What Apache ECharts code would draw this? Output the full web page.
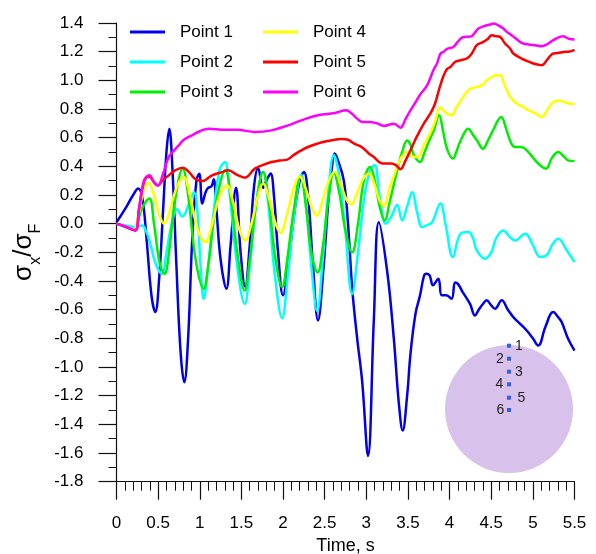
<!DOCTYPE html>
<html>
<head>
<meta charset="utf-8">
<script src="https://cdn.jsdelivr.net/npm/echarts@6/dist/echarts.min.js"></script>
<style>
  html, body { margin: 0; padding: 0; background: #fff; }
  #chart { width: 596px; height: 554px; }
</style>
</head>
<body>
<div id="chart"></div>
<script>
// Normalised stress sigma_x / sigma_F at six depth points versus time (s)
const seriesNames = ['Point 1', 'Point 2', 'Point 3', 'Point 4', 'Point 5', 'Point 6'];
const seriesColors = ['#0000ee', '#00ffff', '#00ee00', '#ffff00', '#ff0000', '#ff00ff'];

const xTicks = { min: 0, max: 5.5, step: 0.5 };
const yTicks = { min: -1.8, max: 1.4, step: 0.2 };

const point1 = [
  [0, 0.01], [0.1, 0.1], [0.2, 0.2], [0.26, 0.245], [0.31, 0.18], [0.36, -0.1], [0.42, -0.5],
  [0.466, -0.617], [0.51, -0.4], [0.56, 0.1], [0.6, 0.5], [0.634, 0.663], [0.67, 0.4],
  [0.72, -0.3], [0.77, -0.9], [0.814, -1.106], [0.86, -0.8], [0.91, -0.1], [0.96, 0.3],
  [0.994, 0.349], [1.03, 0.14], [1.07, 0.22], [1.1, 0.25], [1.14, 0.26], [1.167, 0.31],
  [1.2, 0.1], [1.25, -0.25], [1.319, -0.454], [1.37, -0.15], [1.435, 0.25], [1.49, -0.2],
  [1.545, -0.44], [1.6, -0.15], [1.65, 0.25], [1.70, 0.39], [1.76, 0.25], [1.80, 0.3],
  [1.85, 0.35], [1.89, 0.2], [1.94, -0.2], [2.0, -0.5], [2.06, -0.3], [2.13, 0.05],
  [2.2, 0.3], [2.25, 0.36], [2.3, 0.2], [2.36, -0.3], [2.42, -0.675], [2.48, -0.35],
  [2.55, 0.2], [2.6, 0.45], [2.62, 0.49], [2.66, 0.44], [2.73, 0.3], [2.78, 0.0],
  [2.83, -0.45], [2.89, -0.8], [2.95, -1.1], [3.02, -1.62], [3.09, -0.675], [3.15, 0.01],
  [3.25, -0.33], [3.33, -0.8], [3.39, -1.25], [3.437, -1.443], [3.49, -1.2], [3.53, -0.91],
  [3.59, -0.63], [3.645, -0.5], [3.69, -0.37], [3.717, -0.35], [3.76, -0.36], [3.80, -0.43],
  [3.865, -0.384], [3.905, -0.5], [3.96, -0.5], [4.025, -0.524], [4.065, -0.41], [4.1, -0.42],
  [4.15, -0.47], [4.245, -0.56], [4.305, -0.64], [4.35, -0.6], [4.4, -0.56], [4.445, -0.535],
  [4.5, -0.57], [4.545, -0.593], [4.626, -0.535], [4.7, -0.6], [4.765, -0.652], [4.85, -0.7],
  [4.926, -0.745], [5.0, -0.8], [5.065, -0.85], [5.15, -0.72], [5.245, -0.617], [5.3, -0.65],
  [5.347, -0.687], [5.42, -0.8], [5.5, -0.885]
];

const point2 = [
  [0, 0], [0.1, -0.01], [0.226, -0.024], [0.306, -0.012], [0.36, -0.06], [0.406, -0.14],
  [0.47, -0.28], [0.546, -0.35], [0.6, -0.2], [0.666, 0.01], [0.727, 0.1], [0.787, 0.05],
  [0.886, 0.163], [0.93, 0.22], [0.97, 0.1], [1.01, -0.3], [1.047, -0.524], [1.1, -0.3],
  [1.17, 0.1], [1.24, 0.38], [1.30, 0.43], [1.36, 0.2], [1.45, -0.3], [1.54, -0.56],
  [1.6, -0.3], [1.68, 0.15], [1.76, 0.36], [1.82, 0.15], [1.9, -0.35], [1.99, -0.66],
  [2.05, -0.4], [2.13, 0.05], [2.22, 0.34], [2.28, 0.1], [2.34, -0.3], [2.41, -0.61],
  [2.47, -0.3], [2.54, 0.2], [2.61, 0.477], [2.67, 0.35], [2.74, 0.0], [2.83, -0.49],
  [2.9, -0.2], [2.98, 0.2], [3.05, 0.38], [3.10, 0.407], [3.16, 0.19], [3.233, 0.0],
  [3.3, 0.05], [3.37, 0.13], [3.43, 0.023], [3.49, 0.12], [3.55, 0.22], [3.61, 0.08],
  [3.67, -0.024], [3.73, -0.01], [3.79, 0.01], [3.89, 0.14], [3.95, 0.0], [4.04, -0.233],
  [4.13, -0.07], [4.225, -0.058], [4.28, -0.1], [4.326, -0.186], [4.425, -0.244], [4.5, -0.2],
  [4.56, -0.1], [4.645, -0.047], [4.72, -0.09], [4.786, -0.117], [4.906, -0.07], [5.0, -0.15],
  [5.086, -0.233], [5.166, -0.22], [5.24, -0.14], [5.306, -0.105], [5.4, -0.18], [5.5, -0.268]
];

const point3 = [
  [0, 0], [0.1, -0.02], [0.2, -0.04], [0.25, 0.0], [0.3, 0.1], [0.394, 0.175], [0.45, 0.0],
  [0.52, -0.28], [0.578, -0.35], [0.63, -0.2], [0.7, 0.15], [0.795, 0.384], [0.86, 0.2],
  [0.95, -0.25], [1.047, -0.454], [1.1, -0.3], [1.2, 0.15], [1.307, 0.372], [1.37, 0.2],
  [1.45, -0.2], [1.54, -0.466], [1.6, -0.25], [1.68, 0.15], [1.76, 0.36], [1.83, 0.15],
  [1.91, -0.25], [1.99, -0.442], [2.05, -0.25], [2.13, 0.1], [2.21, 0.33], [2.28, 0.1],
  [2.34, -0.2], [2.415, -0.34], [2.48, -0.15], [2.54, 0.15], [2.61, 0.355], [2.68, 0.2],
  [2.75, -0.05], [2.83, -0.2], [2.9, 0.0], [2.97, 0.3], [3.045, 0.395], [3.1, 0.3],
  [3.16, 0.12], [3.22, 0.023], [3.28, 0.15], [3.37, 0.37], [3.43, 0.5], [3.49, 0.58],
  [3.53, 0.55], [3.57, 0.48], [3.645, 0.43], [3.7, 0.5], [3.77, 0.6], [3.81, 0.65],
  [3.875, 0.756], [3.92, 0.65], [3.97, 0.52], [4.04, 0.454], [4.08, 0.5], [4.125, 0.57],
  [4.225, 0.663], [4.28, 0.62], [4.33, 0.58], [4.4, 0.523], [4.46, 0.58], [4.52, 0.65],
  [4.62, 0.744], [4.68, 0.66], [4.74, 0.56], [4.786, 0.535], [4.85, 0.535], [4.906, 0.523],
  [4.96, 0.49], [5.03, 0.44], [5.1, 0.4], [5.158, 0.384], [5.23, 0.46], [5.306, 0.5],
  [5.37, 0.47], [5.43, 0.44], [5.5, 0.437]
];

const point4 = [
  [0, 0], [0.1, -0.02], [0.2, -0.04], [0.26, 0.05], [0.32, 0.22], [0.38, 0.285], [0.45, 0.2],
  [0.52, 0.05], [0.574, 0.0], [0.63, 0.07], [0.72, 0.25], [0.807, 0.326], [0.88, 0.2],
  [0.98, -0.05], [1.067, -0.128], [1.14, -0.02], [1.24, 0.2], [1.327, 0.267], [1.4, 0.15],
  [1.48, -0.05], [1.547, -0.117], [1.62, 0.0], [1.7, 0.2], [1.76, 0.28], [1.83, 0.18],
  [1.9, 0.02], [1.97, -0.065], [2.04, 0.05], [2.13, 0.25], [2.2, 0.33], [2.27, 0.25],
  [2.34, 0.12], [2.405, 0.055], [2.47, 0.15], [2.55, 0.3], [2.62, 0.36], [2.69, 0.28],
  [2.76, 0.17], [2.82, 0.135], [2.88, 0.2], [2.96, 0.31], [3.03, 0.35], [3.1, 0.27],
  [3.16, 0.16], [3.21, 0.125], [3.28, 0.25], [3.37, 0.395], [3.43, 0.47], [3.49, 0.5],
  [3.55, 0.47], [3.62, 0.465], [3.69, 0.55], [3.765, 0.628], [3.83, 0.72], [3.88, 0.81],
  [3.905, 0.803], [3.96, 0.77], [4.025, 0.756], [4.08, 0.81], [4.125, 0.85], [4.18, 0.9],
  [4.245, 0.94], [4.3, 0.95], [4.386, 0.965], [4.445, 1.0], [4.506, 1.023], [4.56, 1.035],
  [4.606, 1.035], [4.65, 0.98], [4.705, 0.907], [4.746, 0.872], [4.8, 0.84], [4.885, 0.814],
  [4.95, 0.79], [5.03, 0.77], [5.106, 0.744], [5.17, 0.79], [5.226, 0.838], [5.3, 0.86],
  [5.35, 0.855], [5.42, 0.84], [5.5, 0.835]
];

const point5 = [
  [0, 0], [0.1, -0.02], [0.222, -0.047], [0.27, 0.1], [0.33, 0.29], [0.39, 0.33], [0.45, 0.29],
  [0.498, 0.267], [0.55, 0.3], [0.627, 0.337], [0.7, 0.37], [0.795, 0.391], [0.87, 0.36],
  [0.95, 0.31], [1.027, 0.297], [1.147, 0.337], [1.267, 0.36], [1.34, 0.372], [1.45, 0.34],
  [1.54, 0.321], [1.66, 0.384], [1.76, 0.41], [1.86, 0.43], [1.95, 0.44], [2.04, 0.445],
  [2.13, 0.48], [2.22, 0.512], [2.32, 0.54], [2.42, 0.56], [2.52, 0.575], [2.62, 0.586],
  [2.7, 0.59], [2.78, 0.585], [2.85, 0.56], [2.93, 0.54], [2.97, 0.523], [3.03, 0.49],
  [3.09, 0.465], [3.19, 0.42], [3.29, 0.419], [3.35, 0.41], [3.41, 0.38], [3.47, 0.44],
  [3.53, 0.512], [3.6, 0.6], [3.69, 0.698], [3.76, 0.76], [3.82, 0.83], [3.88, 0.95],
  [3.93, 1.035], [3.97, 1.08], [4.01, 1.093], [4.065, 1.128], [4.13, 1.14], [4.205, 1.152],
  [4.266, 1.187], [4.326, 1.245], [4.405, 1.268], [4.46, 1.29], [4.506, 1.315], [4.54, 1.31],
  [4.606, 1.303], [4.665, 1.257], [4.726, 1.222], [4.765, 1.187], [4.866, 1.152], [4.95, 1.13],
  [5.006, 1.117], [5.06, 1.11], [5.106, 1.105], [5.18, 1.15], [5.245, 1.187], [5.3, 1.19],
  [5.366, 1.198], [5.43, 1.2], [5.5, 1.213]
];

const point6 = [
  [0, 0], [0.1, -0.02], [0.222, -0.047], [0.27, 0.1], [0.33, 0.3], [0.394, 0.337], [0.45, 0.29],
  [0.498, 0.267], [0.56, 0.35], [0.627, 0.465], [0.69, 0.51], [0.747, 0.547], [0.82, 0.59],
  [0.907, 0.616], [1.0, 0.645], [1.107, 0.663], [1.267, 0.656], [1.45, 0.655], [1.66, 0.64],
  [1.86, 0.651], [2.06, 0.686], [2.22, 0.721], [2.42, 0.756], [2.62, 0.772], [2.76, 0.791],
  [2.82, 0.77], [2.89, 0.733], [2.95, 0.71], [3.044, 0.709], [3.13, 0.7], [3.21, 0.682],
  [3.33, 0.698], [3.41, 0.67], [3.47, 0.73], [3.53, 0.791], [3.605, 0.86], [3.645, 0.9],
  [3.73, 0.965], [3.805, 1.07], [3.85, 1.12], [3.89, 1.187], [3.925, 1.198], [3.97, 1.22],
  [4.045, 1.233], [4.1, 1.27], [4.165, 1.303], [4.25, 1.305], [4.3, 1.33], [4.345, 1.361],
  [4.42, 1.38], [4.49, 1.39], [4.525, 1.396], [4.58, 1.385], [4.645, 1.361], [4.686, 1.338],
  [4.745, 1.315], [4.846, 1.268], [4.885, 1.257], [4.95, 1.25], [5.026, 1.245], [5.106, 1.238],
  [5.18, 1.255], [5.245, 1.28], [5.358, 1.307], [5.43, 1.29], [5.5, 1.285]
];

const seriesData = [point1, point2, point3, point4, point5, point6];

// Inset sketch: measuring points down the centre line of a disc
const insetLabels = ['1', '2', '3', '4', '5', '6'];

const FONT = "'Liberation Sans', Arial, sans-serif";

const chart = echarts.init(document.getElementById('chart'), null, { renderer: 'canvas' });

function legendBlock(names, left) {
  return {
    data: names,
    orient: 'vertical',
    left: left,
    top: 22,
    padding: 0,
    itemGap: 10,
    itemWidth: 35,
    itemHeight: 3,
    icon: 'rect',
    textStyle: { fontFamily: FONT, fontSize: 17, color: '#000', lineHeight: 20, padding: [0, 0, 0, 10] },
    selectedMode: false
  };
}

// inset geometry
const disc = { cx: 509, cy: 409, r: 64 };
const dotY = [345.7, 358.7, 371.7, 384.3, 397.7, 410];
const labelX = [519, 500, 519, 499.5, 521.5, 500.5];

const graphics = [
  { type: 'circle', shape: { cx: disc.cx, cy: disc.cy, r: disc.r }, style: { fill: '#d8c1ea' }, z: 1 }
];
insetLabels.forEach((lab, i) => {
  graphics.push({
    type: 'rect', shape: { x: disc.cx - 2, y: dotY[i] - 2, width: 4, height: 4 },
    style: { fill: '#2a63e6' }, z: 2
  });
  graphics.push({
    type: 'text', x: labelX[i], y: dotY[i],
    style: { text: lab, fill: '#222', font: '14px ' + FONT, textAlign: 'center', textVerticalAlign: 'middle' },
    z: 2
  });
});

const option = {
  animation: false,
  backgroundColor: '#fff',
  grid: {
    left: 116.5, right: 21.5, top: 23, bottom: 72.3,
    containLabel: false, outerBoundsMode: 'none'
  },
  legend: [
    legendBlock(seriesNames.slice(0, 3), 130),
    legendBlock(seriesNames.slice(3, 6), 263)
  ],
  xAxis: {
    type: 'value',
    min: xTicks.min, max: xTicks.max, interval: xTicks.step,
    name: 'Time, s',
    nameLocation: 'middle',
    nameGap: 54,
    nameTextStyle: { fontFamily: FONT, fontSize: 18, color: '#000' },
    axisLine: { show: true, onZero: false, lineStyle: { color: '#111', width: 1.2 } },
    axisTick: { show: true, inside: false, length: 18, lineStyle: { color: '#111', width: 1.2 } },
    minorTick: { show: true, splitNumber: 5, length: 9, lineStyle: { color: '#111', width: 1 } },
    axisLabel: { fontFamily: FONT, fontSize: 17, color: '#000', margin: 33 },
    splitLine: { show: false },
    minorSplitLine: { show: false }
  },
  yAxis: {
    type: 'value',
    min: yTicks.min, max: yTicks.max, interval: yTicks.step,
    name: '{s|σ}{sub|x}{s|/σ}{sub|F}',
    nameLocation: 'middle',
    nameGap: 70,
    nameTextStyle: {
      fontFamily: FONT, color: '#000',
      rich: {
        s: { fontFamily: FONT, fontSize: 26, lineHeight: 32, verticalAlign: 'top', color: '#000' },
        sub: { fontFamily: FONT, fontSize: 16, lineHeight: 16, verticalAlign: 'bottom', color: '#000' }
      }
    },
    axisLine: { show: true, onZero: false, lineStyle: { color: '#111', width: 1.2 } },
    axisTick: { show: true, inside: false, length: 18, lineStyle: { color: '#111', width: 1.2 } },
    minorTick: { show: true, splitNumber: 2, length: 8, lineStyle: { color: '#111', width: 1 } },
    axisLabel: {
      fontFamily: FONT, fontSize: 17, color: '#000', margin: 33,
      formatter: v => (Math.abs(v) < 1e-9 ? '0.0' : v.toFixed(1))
    },
    splitLine: { show: false },
    minorSplitLine: { show: false }
  },
  graphic: graphics,
  series: seriesData.map((d, i) => ({
    name: seriesNames[i],
    type: 'line',
    data: d,
    smooth: 0.4,
    showSymbol: false,
    symbol: 'none',
    color: seriesColors[i],
    lineStyle: { color: seriesColors[i], width: 2.5 },
    z: 3 + i
  }))
};

chart.setOption(option);
</script>
</body>
</html>
